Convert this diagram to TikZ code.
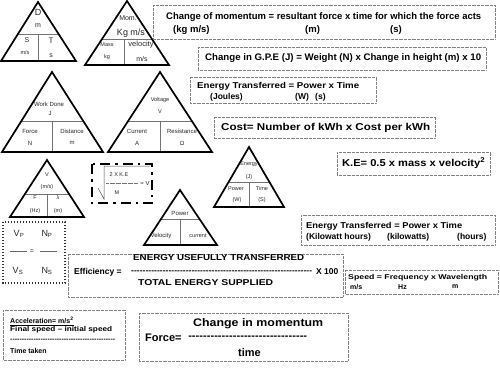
\documentclass[tikz,border=0pt]{standalone}
\usepackage{fontspec}
\setmainfont{Liberation Sans}
\usepackage{graphicx}
\usetikzlibrary{calc}
\newcommand{\fw}[2]{\resizebox{#1}{\height}{#2}}
\newcommand{\dashrow}[1]{\hbox to #1{\xleaders\hbox{-}\hfill}}
\begin{document}
\begin{tikzpicture}[x=1pt,y=-1pt,
 tri/.style={line width=1.7pt, line join=miter},
 div/.style={line width=0.5pt, black!55},
 dbox/.style={draw=black!50, line width=0.6pt, dash pattern=on 0.6pt off 0.7pt},
 tt/.style={inner sep=0pt, font=\fontsize{6}{7}\selectfont, text=black!85},
 bt/.style={inner sep=0pt, anchor=west, font=\bfseries},
]
\useasboundingbox (0,0) rectangle (500,375);

% ---------- Triangle D S T
\coordinate (dA) at (38,2); \coordinate (dL) at (1,61); \coordinate (dR) at (76,61);
\draw[div] ($(dA)!0.542!(dL)$) -- ($(dA)!0.542!(dR)$);
\draw[div] (38,34) -- (38,61);
\draw[tri] (dA) -- (dL) -- (dR) -- cycle;
\node[tt,font=\fontsize{9}{10}\selectfont] (dD) at (38,12) {D};
\node[tt,font=\fontsize{7}{8}\selectfont] (dm) at (38,26) {m};
\node[tt,font=\fontsize{7}{8}\selectfont] (dS) at (27,40) {S};
\node[tt,font=\fontsize{5.5}{6}\selectfont] (dms) at (25,53) {m/s};
\node[tt,font=\fontsize{8}{9}\selectfont] (dT) at (51,41) {T};
\node[tt,font=\fontsize{7}{8}\selectfont] (ds) at (51,56) {s};

% ---------- Triangle Momentum
\coordinate (mA) at (127,1); \coordinate (mL) at (85,65); \coordinate (mR) at (169,65);
\draw[div] ($(mA)!0.594!(mL)$) -- ($(mA)!0.594!(mR)$);
\draw[div] (124,39) -- (124,65);
\draw[tri] (mA) -- (mL) -- (mR) -- cycle;
\node[tt,font=\fontsize{7}{8}\selectfont] (mMom) at (128,18) {Mom.};
\node[tt,font=\fontsize{9}{10}\selectfont] (mKg) at (131,33) {Kg m/s};
\node[tt,font=\fontsize{5.5}{6}\selectfont] (mMass) at (107,45) {Mass};
\node[tt,font=\fontsize{5.5}{6}\selectfont] (mkg) at (107,57) {kg};
\node[tt,font=\fontsize{7.5}{8}\selectfont] (mvel) at (141,45) {velocity};
\node[tt,font=\fontsize{7}{8}\selectfont] (mms) at (142,59) {m/s};

% ---------- Triangle Work done
\coordinate (wA) at (52,72); \coordinate (wL) at (2,152); \coordinate (wR) at (103,152);
\draw[div] ($(wA)!0.6125!(wL)$) -- ($(wA)!0.6125!(wR)$);
\draw[div] (52,121) -- (52,152);
\draw[tri] (wA) -- (wL) -- (wR) -- cycle;
\node[tt] (wWD) at (49,104) {Work Done};
\node[tt] (wJ) at (50,113) {J};
\node[tt] (wF) at (30,131) {Force};
\node[tt] (wN) at (30,143) {N};
\node[tt] (wDi) at (72,131) {Distance};
\node[tt] (wm) at (72,143) {m};

% ---------- Triangle Voltage
\coordinate (vA) at (160,72); \coordinate (vL) at (108,152); \coordinate (vR) at (212,152);
\draw[div] ($(vA)!0.6125!(vL)$) -- ($(vA)!0.6125!(vR)$);
\draw[div] (160,121) -- (160,152);
\draw[tri] (vA) -- (vL) -- (vR) -- cycle;
\node[tt,font=\fontsize{5.5}{6}\selectfont] (vVo) at (160,100) {Voltage};
\node[tt,font=\fontsize{5.5}{6}\selectfont] (vV) at (160,112) {V};
\node[tt] (vCu) at (137,131) {Current};
\node[tt] (vAm) at (137,143) {A};
\node[tt] (vRe) at (182,131) {Resistance};
\node[tt] (vOm) at (182,143) {Ω};

% ---------- Triangle Energy
\coordinate (eA) at (249,147); \coordinate (eL) at (214,207); \coordinate (eR) at (284,207);
\draw[div] ($(eA)!0.583!(eL)$) -- ($(eA)!0.583!(eR)$);
\draw[div] (249,182) -- (249,207);
\draw[tri] (eA) -- (eL) -- (eR) -- cycle;
\node[tt,font=\fontsize{5.5}{6}\selectfont] (eEn) at (249,164) {Energy};
\node[tt,font=\fontsize{5.5}{6}\selectfont] (eJ) at (249,177) {(J)};
\node[tt,font=\fontsize{5.5}{6}\selectfont] (ePo) at (236,189) {Power};
\node[tt,font=\fontsize{5.5}{6}\selectfont] (eW) at (237,200) {(W)};
\node[tt,font=\fontsize{5.5}{6}\selectfont] (eTi) at (262,189) {Time};
\node[tt,font=\fontsize{5.5}{6}\selectfont] (eS) at (262,200) {(S)};

% ---------- Triangle V F lambda
\coordinate (fA) at (47,160); \coordinate (fL) at (10,217); \coordinate (fR) at (84,217);
\draw[div] ($(fA)!0.596!(fL)$) -- ($(fA)!0.596!(fR)$);
\draw[div] (47,194) -- (47,217);
\draw[tri] (fA) -- (fL) -- (fR) -- cycle;
\node[tt,font=\fontsize{5.5}{6}\selectfont] (fV) at (47,175) {V};
\node[tt,font=\fontsize{5.5}{6}\selectfont] (fms) at (47,187) {(m/s)};
\node[tt,font=\fontsize{5.5}{6}\selectfont] (fF) at (35,198) {F};
\node[tt,font=\fontsize{5.5}{6}\selectfont] (fHz) at (35,211) {(Hz)};
\node[tt,font=\fontsize{5.5}{6}\selectfont] (fl) at (58,198) {λ};
\node[tt,font=\fontsize{5.5}{6}\selectfont] (fm) at (58,211) {(m)};

% ---------- Triangle Power
\coordinate (pA) at (180,190); \coordinate (pL) at (144,245); \coordinate (pR) at (217,245);
\draw[div] ($(pA)!0.527!(pL)$) -- ($(pA)!0.527!(pR)$);
\draw[div] (180,219) -- (180,245);
\draw[tri] (pA) -- (pL) -- (pR) -- cycle;
\node[tt] (pPo) at (180,213) {Power};
\node[tt] (pVe) at (161,236) {Velocity};
\node[tt,font=\fontsize{5.5}{6}\selectfont] (pCu) at (198,236) {current};

% ---------- 2 X KE box
\draw[line width=2.4pt, dash pattern=on 10pt off 5pt on 2.5pt off 5pt] (92,164) rectangle (152,203);
\draw[line width=0.5pt, black!70] (98,188) -- (104,199) -- (104,166) -- (150,166);
\node[tt,font=\fontsize{5.5}{6}\selectfont] (k2) at (119,175) {2 X K.E};
\coordinate (kd1) at (106,183); \coordinate (kd2) at (138,183);
\draw[black!55, line width=0.6pt, dash pattern=on 0.6pt off 0.6pt] (kd1) -- (kd2);
\node[tt,font=\fontsize{6}{7}\selectfont] (kV) at (145,183) {= V};
\node[tt,font=\fontsize{5.5}{6}\selectfont] (kM) at (117,193) {M};

% ---------- Vp/Np box
\draw[black!80, line width=1.4pt, dash pattern=on 1.4pt off 1.6pt] (3,222) rectangle (65,283);
\node[tt,font=\fontsize{9}{10}\selectfont] (tVp) at (19,234) {V\textsubscript{P}};
\node[tt,font=\fontsize{9}{10}\selectfont] (tNp) at (47,234) {N\textsubscript{P}};
\coordinate (l1a) at (10,251); \coordinate (l1b) at (27,251);
\coordinate (l2a) at (40,251); \coordinate (l2b) at (57,251);
\draw[black!60, line width=0.5pt] (l1a) -- (l1b);
\draw[black!60, line width=0.5pt] (l2a) -- (l2b);
\node[tt,font=\fontsize{7}{8}\selectfont] (teq) at (32,252) {=};
\node[tt,font=\fontsize{9}{10}\selectfont] (tVs) at (18,271) {V\textsubscript{S}};
\node[tt,font=\fontsize{9}{10}\selectfont] (tNs) at (47,271) {N\textsubscript{S}};

% ---------- Boxes
\draw[dbox] (153,5) rectangle (495,39);
\node[bt] (b1a) at (166,17) {\fw{315pt}{\fontsize{9.5}{11}\selectfont\bfseries Change of momentum = resultant force x time for which the force acts}};
\node[bt,font=\fontsize{9.5}{11}\selectfont\bfseries] (b1b) at (173,30) {(kg m/s)};
\node[bt,font=\fontsize{9.5}{11}\selectfont\bfseries] (b1c) at (305,30) {(m)};
\node[bt,font=\fontsize{9.5}{11}\selectfont\bfseries] (b1d) at (390,30) {(s)};

\draw[dbox] (198,47) rectangle (486,70);
\node[bt] (b2) at (205,58) {\fw{276pt}{\fontsize{9.5}{11}\selectfont\bfseries Change in G.P.E (J) = Weight (N) x Change in height (m) x 10}};

\draw[dbox] (190,77) rectangle (376,103);
\node[bt] (b3a) at (197,86) {\fw{162pt}{\fontsize{8.5}{10}\selectfont\bfseries Energy Transferred = Power x Time}};
\node[bt,font=\fontsize{8.5}{10}\selectfont\bfseries] (b3b) at (210,97) {(Joules)};
\node[bt,font=\fontsize{8.5}{10}\selectfont\bfseries] (b3c) at (295,97) {(W)};
\node[bt,font=\fontsize{8.5}{10}\selectfont\bfseries] (b3d) at (315,97) {(s)};

\draw[dbox] (214,117) rectangle (435,138);
\node[bt] (b4) at (221,128) {\fw{209pt}{\fontsize{10}{12}\selectfont\bfseries Cost= Number of kWh x Cost per kWh}};

\draw[dbox] (337,152) rectangle (490,175);
\node[bt] (b5) at (342,163) {\fw{143pt}{\fontsize{10}{12}\selectfont\bfseries K.E= 0.5 x mass x velocity\textsuperscript{2}}};

\draw[dbox] (301,215) rectangle (495,245);
\node[bt] (b6a) at (306,226) {\fw{156pt}{\fontsize{8.5}{10}\selectfont\bfseries Energy Transferred = Power x Time}};
\node[bt,font=\fontsize{8.5}{10}\selectfont\bfseries] (b6b) at (306,237) {(Kilowatt hours)};
\node[bt,font=\fontsize{8.5}{10}\selectfont\bfseries] (b6c) at (387,237) {(kilowatts)};
\node[bt,font=\fontsize{8.5}{10}\selectfont\bfseries] (b6d) at (457,237) {(hours)};

\draw[dbox] (345,270) rectangle (498,294);
\node[bt] (b7a) at (348,278) {\fw{139pt}{\fontsize{7}{8}\selectfont\bfseries Speed = Frequency x Wavelength}};
\node[bt,font=\fontsize{7}{8}\selectfont\bfseries] (b7b) at (350,287) {m/s};
\node[bt,font=\fontsize{7}{8}\selectfont\bfseries] (b7c) at (398,287) {Hz};
\node[bt,font=\fontsize{7}{8}\selectfont\bfseries] (b7d) at (452,287) {m};

\draw[dbox] (68,254) rectangle (343,297);
\node[bt,font=\fontsize{8.5}{10}\selectfont\bfseries] (e1) at (74,272) {Efficiency =};
\node[bt,font=\fontsize{8.5}{10}\selectfont\bfseries] (e2) at (131,272) {\dashrow{181pt}};
\node[bt,font=\fontsize{8.5}{10}\selectfont\bfseries] (e3) at (316,272) {X 100};
\node[bt] (e4) at (133,258) {\fw{171pt}{\fontsize{8.5}{10}\selectfont\bfseries ENERGY USEFULLY TRANSFERRED}};
\node[bt] (e5) at (138,283) {\fw{135pt}{\fontsize{8.5}{10}\selectfont\bfseries TOTAL ENERGY SUPPLIED}};

\draw[dbox] (3,310) rectangle (125,360);
\node[bt] (a1) at (10,321) {\fontsize{7}{8}\selectfont\bfseries\underline{Acceleration= m/s\textsuperscript{2}}};
\node[bt] (a2) at (10,330) {\fw{102pt}{\fontsize{7}{8}\selectfont\bfseries Final speed – initial speed}};
\node[bt,font=\fontsize{7}{8}\selectfont\bfseries] (a3) at (10,340) {\dashrow{105pt}};
\node[bt,font=\fontsize{7}{8}\selectfont\bfseries] (a4) at (10,351) {Time taken};

\draw[dbox] (139,313) rectangle (348,361);
\node[bt] (f1) at (193,324) {\fw{130pt}{\fontsize{11}{13}\selectfont\bfseries Change in momentum}};
\node[bt,font=\fontsize{11}{13}\selectfont\bfseries] (f2) at (145,338) {Force=};
\node[bt,font=\fontsize{11}{13}\selectfont\bfseries] (f3) at (188,338) {\dashrow{119pt}};
\node[bt,font=\fontsize{11}{13}\selectfont\bfseries] (f4) at (238,353) {time};
\end{tikzpicture}
\end{document}
